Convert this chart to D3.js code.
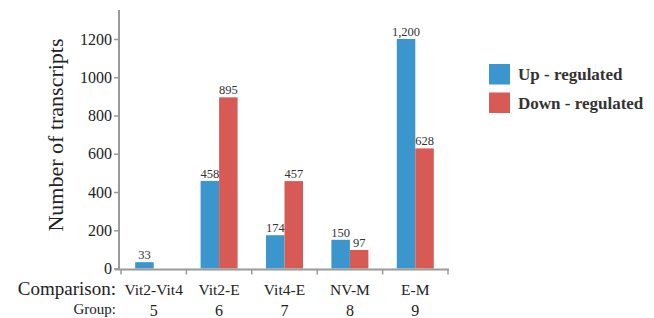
<!DOCTYPE html>
<html>
<head>
<meta charset="utf-8">
<script src="https://cdn.jsdelivr.net/npm/d3@7"></script>
<style>
  body { margin: 0; background: #fff; }
</style>
</head>
<body>
<div class="canvas"></div>
<script>
const comparisons = ['Vit2-Vit4', 'Vit2-E', 'Vit4-E', 'NV-M', 'E-M'];
const groups = ['5', '6', '7', '8', '9'];
const upValues = [33, 458, 174, 150, 1200];
const downValues = [null, 895, 457, 97, 628];
const seriesNames = ['Up - regulated', 'Down - regulated'];
const yTicks = [0, 200, 400, 600, 800, 1000, 1200];

const svgWidth = 654;
const svgHeight = 318;
const colors = ['#3a96cc', '#d85a55'];
const axisColor = '#9a9a9a';
const serif = 'Liberation Serif, DejaVu Serif, serif';

const svg = d3.select('.canvas').append('svg')
  .attr('width', svgWidth)
  .attr('height', svgHeight)
  .style('font-family', serif);

const x = d3.scaleBand().domain(comparisons).range([121, 448]).paddingInner(0).paddingOuter(0);
const y = d3.scaleLinear().domain([0, 1200]).range([268.5, 39]);
const barW = 18.5;

const data = comparisons.map((c, i) => ({ c, up: upValues[i], down: downValues[i] }));

// bars + value labels
const g = svg.append('g');
data.forEach(d => {
  const cx = x(d.c) + x.bandwidth() / 2;
  [[d.up, 0], [d.down, 1]].forEach(([v, s]) => {
    if (v == null) return;
    const bx = s === 0 ? cx - barW : cx;
    g.append('rect')
      .attr('x', bx)
      .attr('y', y(v))
      .attr('width', barW)
      .attr('height', y(0) - y(v))
      .attr('fill', colors[s]);
    g.append('text')
      .attr('x', bx + barW / 2)
      .attr('y', y(v) - 3)
      .attr('text-anchor', 'middle')
      .style('font-family', serif)
      .attr('font-size', '12.5px')
      .attr('fill', '#333')
      .text(d3.format(',')(v));
  });
});

// y axis
const yAxis = svg.append('g')
  .attr('transform', 'translate(119,0)')
  .call(d3.axisLeft(y).tickValues(yTicks).tickSize(5).tickSizeOuter(0).tickFormat(d3.format('d')));
yAxis.attr('font-family', null);
yAxis.select('.domain').remove();
yAxis.append('line')
  .attr('x1', 0).attr('x2', 0)
  .attr('y1', 10).attr('y2', 270)
  .attr('stroke', axisColor).attr('stroke-width', 2);
yAxis.selectAll('.tick line').attr('stroke', axisColor).attr('stroke-width', 1.5);
yAxis.selectAll('.tick text')
  .style('font-family', serif)
  .attr('font-size', '16px')
  .attr('fill', '#222')
  .attr('x', -7);

// x axis
const xAxis = svg.append('g')
  .attr('transform', 'translate(0,269.5)')
  .call(d3.axisBottom(x).tickValues([]).tickSizeOuter(0));
xAxis.select('.domain').remove();
xAxis.append('line')
  .attr('x1', 115).attr('x2', 449)
  .attr('stroke', axisColor).attr('stroke-width', 2);
const boundaries = comparisons.map(c => x(c)).concat([x.range()[1]]);
xAxis.selectAll('.btick').data(boundaries).enter().append('line')
  .attr('x1', d => d).attr('x2', d => d)
  .attr('y1', 0).attr('y2', 5)
  .attr('stroke', axisColor).attr('stroke-width', 1.5);

// category labels
svg.selectAll('.cat').data(comparisons).enter().append('text')
  .attr('x', d => x(d) + x.bandwidth() / 2)
  .attr('y', 295)
  .attr('text-anchor', 'middle')
  .style('font-family', serif)
  .attr('font-size', '15.5px')
  .attr('fill', '#222')
  .text(d => d);
svg.selectAll('.grp').data(groups).enter().append('text')
  .attr('x', (d, i) => x(comparisons[i]) + x.bandwidth() / 2)
  .attr('y', 316)
  .attr('text-anchor', 'middle')
  .style('font-family', serif)
  .attr('font-size', '16px')
  .attr('fill', '#222')
  .text(d => d);

svg.append('text')
  .attr('x', 116).attr('y', 295)
  .attr('text-anchor', 'end')
  .style('font-family', serif)
  .attr('font-size', '19px')
  .attr('fill', '#222')
  .text('Comparison:');
svg.append('text')
  .attr('x', 116).attr('y', 314)
  .attr('text-anchor', 'end')
  .style('font-family', serif)
  .attr('font-size', '15px')
  .attr('fill', '#222')
  .text('Group:');

// y title
svg.append('text')
  .attr('transform', 'translate(63,135) rotate(-90)')
  .attr('text-anchor', 'middle')
  .style('font-family', serif)
  .attr('font-size', '22px')
  .attr('fill', '#222')
  .text('Number of transcripts');

// legend
const legend = svg.append('g');
seriesNames.forEach((name, i) => {
  legend.append('rect')
    .attr('x', 489).attr('y', 64 + i * 28.5)
    .attr('width', 21).attr('height', 20.5)
    .attr('fill', colors[i]);
  legend.append('text')
    .attr('x', 518).attr('y', 80 + i * 28.5)
    .style('font-family', serif)
    .attr('font-size', '17px')
    .attr('font-weight', 'bold')
    .attr('fill', '#333')
    .text(name);
});
</script>
</body>
</html>
